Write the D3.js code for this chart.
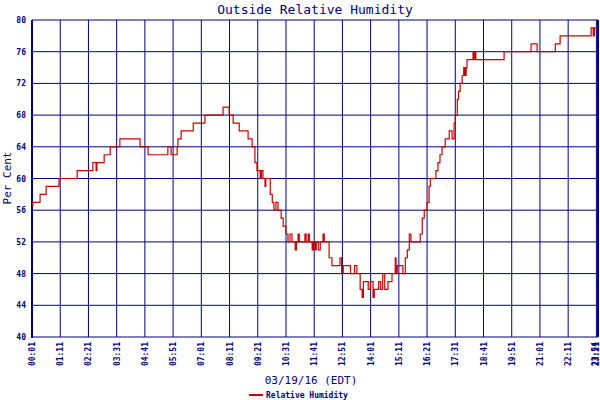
<!DOCTYPE html>
<html><head><meta charset="utf-8">
<script src="https://cdn.jsdelivr.net/npm/d3@7"></script>
<style>body{margin:0;background:#fff}text{font-family:"DejaVu Sans Mono",monospace}</style>
</head><body><svg id="c" width="600" height="400"></svg>
<script>
const tickLabels=["00:01","01:11","02:21","03:31","04:41","05:51","07:01","08:11","09:21","10:31","11:41","12:51","14:01","15:11","16:21","17:31","18:41","19:51","21:01","22:11","23:21"];
const tickMinutes=[0,70,140,210,280,350,420,490,560,630,700,770,840,910,980,1050,1120,1190,1260,1330,1400];
const yTicks=[40,44,48,52,56,60,64,68,72,76,80];
const times=[0,2,20,35,67,112,151,159,161,179,194,218,268,288,337,345,360,362,370,400,429,474,489,499,514,536,546,553,558,566,569,573,578,580,583,591,596,600,605,610,618,623,630,635,640,645,653,656,660,663,677,680,685,688,695,698,702,705,710,715,722,725,730,737,744,764,768,772,777,790,800,806,814,819,822,829,834,839,846,849,854,860,865,870,875,883,893,901,903,906,913,920,926,931,936,940,943,963,968,973,980,985,988,1002,1007,1012,1017,1025,1035,1042,1047,1050,1055,1058,1062,1067,1071,1074,1077,1079,1094,1096,1098,1101,1171,1238,1253,1298,1303,1310,1387,1392,1395,1404];
const humidity=[56.5,57,58,59,60,61,62,61,62,63,64,65,64,63,64,63,64,65,66,67,68,69,68,67,66,65,64,62,61,60,61,60,59,60,60,58,57,56,57,56,55,54,53,52,53,52,51,52,53,52,53,52,53,52,51,52,51,52,51,52,53,52,52,50,49,50,48,49,49,48,49,48,46,45,47,47,46,47,45,46,46,47,46,48,46,47,48,50,48,49,49,48,50,51,53,52,52,53,55,56,57,59,60,61,62,63,64,65,66,65,67,68,70,71,72,73,74,73,74,75,76,75,76,75,76,77,76,77,77,78,79,78,79,79];
const navy="#000080";
const svg=d3.select("#c");
const x=d3.scaleLinear().domain([0,1404]).range([32,598]);
const y=d3.scaleLinear().domain([40,80]).range([337,20]);
svg.append("g").selectAll("line").data(yTicks).join("line")
 .attr("x1",32).attr("x2",598).attr("y1",d=>y(d)).attr("y2",d=>y(d)).attr("stroke",navy).attr("stroke-width",1);
svg.append("g").selectAll("line").data(tickMinutes).join("line")
 .attr("x1",d=>x(d)).attr("x2",d=>x(d)).attr("y1",20).attr("y2",337).attr("stroke",navy).attr("stroke-width",1);
svg.append("line").attr("x1",x(1404)).attr("x2",x(1404)).attr("y1",20).attr("y2",337).attr("stroke",navy).attr("stroke-width",2);
svg.append("line").attr("x1",32).attr("x2",32).attr("y1",20).attr("y2",338).attr("stroke",navy).attr("stroke-width",2);
svg.append("g").selectAll("text").data(yTicks).join("text")
 .attr("x",26).attr("y",d=>y(d)+3).attr("text-anchor","end").attr("font-size",8).attr("font-weight","bold").attr("fill",navy).text(d=>d);
const xl=tickLabels.map((t,i)=>({t,m:tickMinutes[i],o:3})).concat([{t:"23:54",m:1404,o:-0.5}]);
svg.append("g").selectAll("text").data(xl).join("text")
 .attr("transform",d=>`translate(${x(d.m)+d.o},342) rotate(-90)`).attr("text-anchor","end")
 .attr("font-size",8).attr("font-weight","bold").attr("fill",navy).text(d=>d.t);
const pts=times.map((t,i)=>[t,humidity[i]]);
svg.append("path").datum(pts).attr("fill","none").attr("stroke","#cc0000").attr("stroke-width",1.2)
 .attr("d",d3.line().x(d=>x(d[0])).y(d=>y(d[1])).curve(d3.curveStepAfter));
svg.append("text").attr("x",315).attr("y",14).attr("text-anchor","middle").attr("font-size",13).attr("fill",navy).text("Outside Relative Humidity");
svg.append("text").attr("transform","translate(11,178) rotate(-90)").attr("text-anchor","middle").attr("font-size",11).attr("fill",navy).attr("font-family","DejaVu Sans").text("Per Cent");
svg.append("text").attr("x",311).attr("y",384).attr("text-anchor","middle").attr("font-size",11).attr("fill",navy).text("03/19/16 (EDT)");
svg.append("line").attr("x1",249).attr("x2",263).attr("y1",395).attr("y2",395).attr("stroke","#cc0000").attr("stroke-width",2);
svg.append("text").attr("x",266).attr("y",398).attr("font-size",8).attr("font-weight","bold").attr("fill",navy).text("Relative Humidity");
</script></body></html>
